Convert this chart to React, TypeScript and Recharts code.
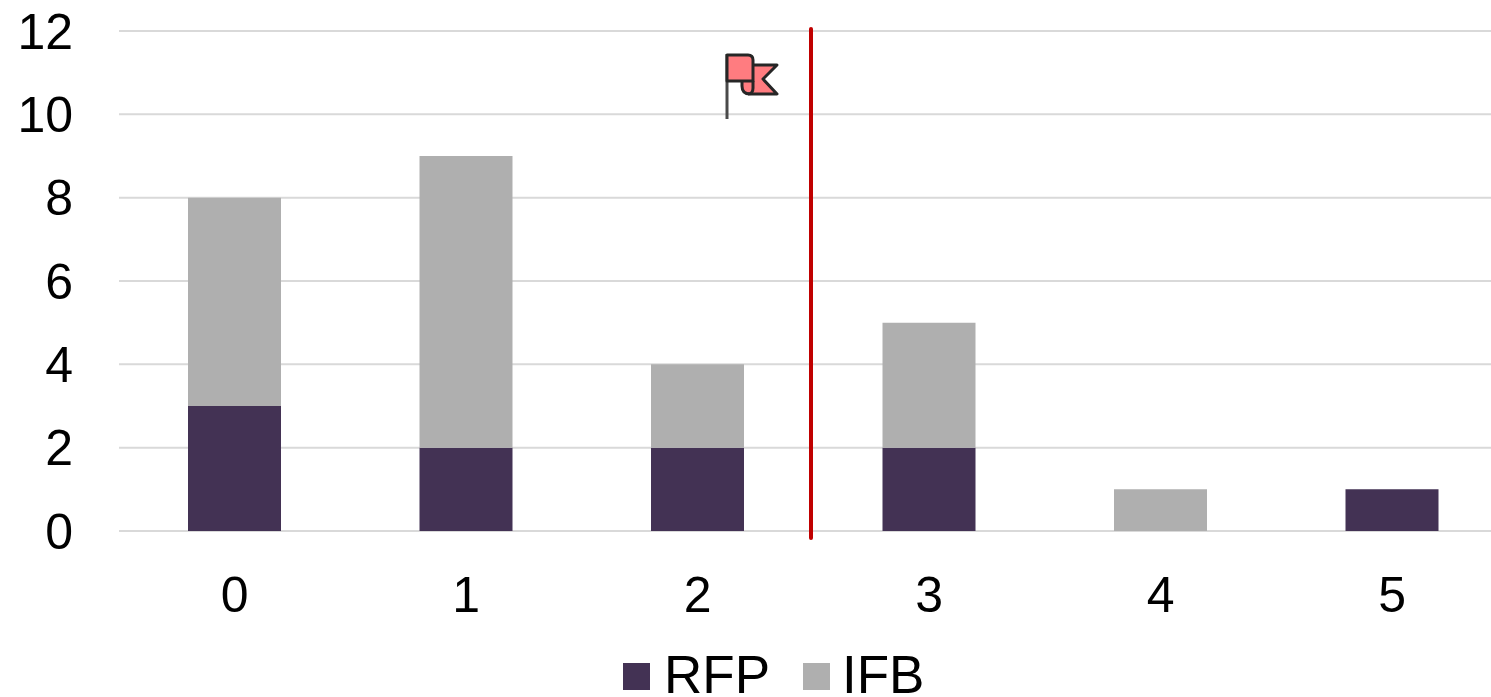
import { BarChart, Bar, XAxis, YAxis, CartesianGrid, ReferenceLine } from 'recharts';

const CATEGORIES = ['0', '1', '2', '3', '4', '5'];
const RFP = [3, 2, 2, 2, 0, 1];
const IFB = [5, 7, 2, 3, 1, 0];
const Y_TICKS = [0, 2, 4, 6, 8, 10, 12];

const chartData = CATEGORIES.map((name, i) => ({ name, RFP: RFP[i], IFB: IFB[i] }));

const FONT = '"Liberation Sans", Arial, sans-serif';
const TICK_SIZE = 50;

// little red flag left of the divider
function Flag() {
  return (
    <g stroke="#262626" strokeWidth={3} strokeLinejoin="round">
      <path d="M752 65 H777 L763 79 L777 94 H750 Q742 94 742 86 V80 Z" fill="#ff7c80" />
      <path d="M727 119 V54" fill="none" stroke="#4a4a4a" strokeWidth={3} />
      <path d="M727 55 H748 Q753 55 753 60 V81 H727 Z" fill="#ff7c80" stroke="#262626" />
      <path d="M753 81 V88 Q753 94 748 94" fill="none" />
    </g>
  );
}

export default function App() {
  return (
    <div style={{ position: 'absolute', left: 0, top: 0, width: 1491, height: 697, overflow: 'hidden', fontFamily: FONT }}>
      <BarChart
        width={1508}
        height={697}
        data={chartData}
        margin={{ top: 31, right: 0, left: 0, bottom: 106 }}
        barCategoryGap="30%"
        style={{ position: 'absolute', left: 0, top: 0 }}
      >
        <CartesianGrid vertical={false} stroke="#d9d9d9" strokeWidth={2} />
        <XAxis
          dataKey="name"
          axisLine={false}
          tickLine={false}
          tick={{ fontSize: TICK_SIZE, fill: '#000', fontFamily: FONT }}
          tickMargin={39}
          height={60}
        />
        <YAxis
          ticks={Y_TICKS}
          domain={[0, 12]}
          interval={0}
          axisLine={false}
          tickLine={false}
          tick={{ fontSize: TICK_SIZE, fill: '#000', fontFamily: FONT }}
          width={119}
          tickMargin={40}
        />
        <Bar dataKey="RFP" stackId="a" fill="#433254" barSize={93} isAnimationActive={false} />
        <Bar dataKey="IFB" stackId="a" fill="#afafaf" barSize={93} isAnimationActive={false} />
        <ReferenceLine
          x="2"
          stroke="none"
          ifOverflow="visible"
          label={() => (
            <g>
              <line x1={811} x2={811} y1={29} y2={538} stroke="#c00000" strokeWidth={4} strokeLinecap="round" />
              <Flag />
            </g>
          )}
        />
      </BarChart>
      <div style={{ position: 'absolute', left: 623, top: 644, height: 52, display: 'flex', alignItems: 'center', fontSize: 53, lineHeight: '52px', color: '#000', whiteSpace: 'nowrap' }}>
        <span style={{ width: 27, height: 27, background: '#433254', marginRight: 14, marginTop: 12 }} />
        <span style={{ width: 112, marginTop: 10 }}>RFP</span>
        <span style={{ width: 27, height: 27, background: '#afafaf', marginLeft: 27, marginRight: 12, marginTop: 12 }} />
        <span style={{ marginTop: 10 }}>IFB</span>
      </div>
    </div>
  );
}
